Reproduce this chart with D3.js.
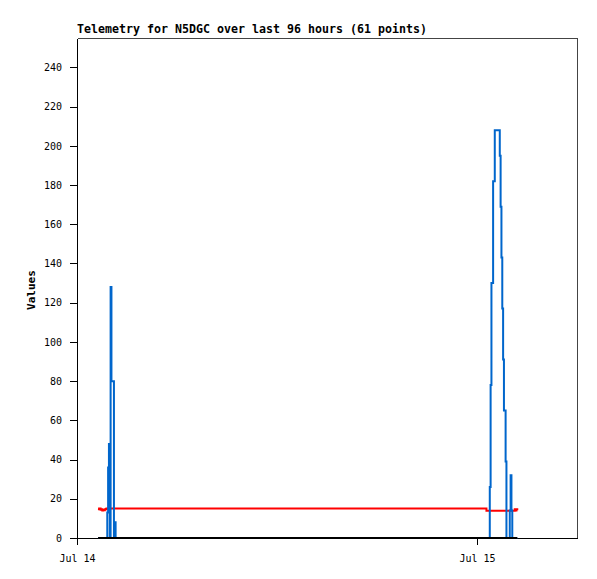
<!DOCTYPE html>
<html>
<head>
<meta charset="utf-8">
<script src="https://cdn.jsdelivr.net/npm/d3@7"></script>
<style>
    body { margin: 0; background: #fff; }
    .axis text { font-family: "DejaVu Sans Mono", monospace; font-size: 10px; fill: #000; }
    .axis path, .axis line { stroke: #000; shape-rendering: crispEdges; }
</style>
</head>
<body>
<div id="chart"></div>
<script>
// Sample times (61 points)
const times = [
    "2024-07-14 01:16", "2024-07-14 01:19", "2024-07-14 01:22", "2024-07-14 01:25", "2024-07-14 01:28",
    "2024-07-14 01:31", "2024-07-14 01:34", "2024-07-14 01:37", "2024-07-14 01:40", "2024-07-14 01:43",
    "2024-07-14 01:46", "2024-07-14 01:49", "2024-07-14 01:52", "2024-07-14 01:55", "2024-07-14 01:58",
    "2024-07-14 02:01", "2024-07-14 02:04", "2024-07-14 02:07", "2024-07-14 02:10", "2024-07-14 02:13",
    "2024-07-14 02:16", "2024-07-14 02:19", "2024-07-14 02:22",
    "2024-07-15 00:34", "2024-07-15 00:37", "2024-07-15 00:40", "2024-07-15 00:43", "2024-07-15 00:46",
    "2024-07-15 00:49", "2024-07-15 00:52", "2024-07-15 00:55", "2024-07-15 00:58", "2024-07-15 01:01",
    "2024-07-15 01:04", "2024-07-15 01:07", "2024-07-15 01:10", "2024-07-15 01:13", "2024-07-15 01:16",
    "2024-07-15 01:19", "2024-07-15 01:22", "2024-07-15 01:25", "2024-07-15 01:28", "2024-07-15 01:31",
    "2024-07-15 01:34", "2024-07-15 01:37", "2024-07-15 01:40", "2024-07-15 01:43", "2024-07-15 01:46",
    "2024-07-15 01:49", "2024-07-15 01:52", "2024-07-15 01:55", "2024-07-15 01:58", "2024-07-15 02:01",
    "2024-07-15 02:04", "2024-07-15 02:07", "2024-07-15 02:10", "2024-07-15 02:13", "2024-07-15 02:16",
    "2024-07-15 02:19", "2024-07-15 02:22", "2024-07-15 02:25"
];

// Blue series
const blueValues = [
    0, 0, 0, 0, 0, 0, 0, 0, 0, 0, 0, 13, 36, 48, 0, 128, 80, 80, 80, 0, 8, 0, 0,
    0, 0, 0, 0, 26, 78, 130, 130, 182, 182, 208, 208, 208, 208, 208, 208,
    195, 169, 143, 117, 91, 65, 65, 39, 0, 0, 0, 0, 14, 32, 14, 0, 0, 0, 0, 0, 0, 0
];

// Red series
const redValues = [
    15.0, 14.6, 15.0, 14.4, 14.6, 14.0, 14.4, 14.1, 14.5, 14.8, 15.0, 15.0, 15.0, 15.0, 15.0,
    15.0, 15.0, 15.0, 15.0, 15.0, 15.0, 15.0, 15.0,
    13.9, 13.9, 13.9, 13.9, 13.9, 13.9, 13.9, 13.9, 13.9, 13.9, 13.9, 13.9, 13.9, 13.9, 13.9,
    13.9, 13.9, 13.9, 13.9, 13.9, 13.9, 13.9, 13.9, 13.9, 13.9, 13.9, 13.9, 13.9, 13.9, 13.9,
    13.9, 13.9, 13.9, 13.9, 14.6, 14.0, 14.6, 14.2
];

// Black series
const blackValues = [
    0, 0, 0, 0, 0, 0, 0, 0, 0, 0, 0, 0, 0, 0, 0, 0, 0, 0, 0, 0, 0, 0, 0,
    0, 0, 0, 0, 0, 0, 0, 0, 0, 0, 0, 0, 0, 0, 0, 0, 0, 0, 0, 0, 0, 0, 0,
    0, 0, 0, 0, 0, 0, 0, 0, 0, 0, 0, 0, 0, 0, 0
];

const xDomain = ["2024-07-14 00:00", "2024-07-15 06:00"];
const yDomain = [0, 255];
const yTicks = [0, 20, 40, 60, 80, 100, 120, 140, 160, 180, 200, 220, 240];
const titleText = "Telemetry for N5DGC over last 96 hours (61 points)";

const WIDTH = 597;
const HEIGHT = 579;
const LEFT = 77;
const TOP = 38;
const PLOT_W = 500;
const PLOT_H = 500;

const parse = d3.timeParse("%Y-%m-%d %H:%M");
const rows = times.map((t, i) => ({
    date: parse(t),
    blue: blueValues[i],
    red: redValues[i],
    black: blackValues[i]
}));

const svg = d3.select("#chart")
    .append("svg")
    .attr("width", WIDTH)
    .attr("height", HEIGHT);

const g = svg.append("g")
    .attr("transform", `translate(${LEFT},${TOP})`);

const xScale = d3.scaleTime()
    .domain(xDomain.map(parse))
    .range([0, PLOT_W]);

const yScale = d3.scaleLinear()
    .domain(yDomain)
    .range([PLOT_H, 0]);

// Frame (top and right)
g.append("path")
    .attr("d", `M0.5,0.5H${PLOT_W + 0.5}V${PLOT_H}`)
    .attr("fill", "none")
    .attr("stroke", "#444")
    .attr("shape-rendering", "crispEdges");

// Title
svg.append("text")
    .attr("x", LEFT)
    .attr("y", 33)
    .attr("textLength", 350)
    .style("font-family", "'DejaVu Sans Mono', monospace")
    .style("font-weight", "bold")
    .style("font-size", "11.6px")
    .text(titleText);

// Y label
svg.append("text")
    .attr("transform", "translate(35,290)rotate(-90)")
    .attr("text-anchor", "middle")
    .style("font-family", "'DejaVu Sans Mono', monospace")
    .style("font-weight", "bold")
    .style("font-size", "11px")
    .text("Values");

// Axes
g.append("g")
    .classed("axis", true)
    .call(d3.axisLeft(yScale).tickValues(yTicks).tickSize(7).tickSizeOuter(0).tickPadding(8));

g.append("g")
    .classed("axis", true)
    .attr("transform", `translate(0,${PLOT_H})`)
    .call(d3.axisBottom(xScale)
        .ticks(d3.timeDay.every(1))
        .tickFormat(d3.timeFormat("%b %d"))
        .tickSize(7).tickSizeOuter(0).tickPadding(10));

// Step lines
const series = [
    { key: "red", color: "#ff0000" },
    { key: "blue", color: "#0066cc" },
    { key: "black", color: "#000000" }
];

series.forEach((s) => {
    const line = d3.line()
        .x(d => xScale(d.date))
        .y(d => yScale(d[s.key]))
        .curve(d3.curveStepAfter);
    g.append("path")
        .datum(rows)
        .attr("d", line)
        .attr("fill", "none")
        .attr("stroke", s.color)
        .attr("stroke-width", 2);
});
</script>
</body>
</html>
